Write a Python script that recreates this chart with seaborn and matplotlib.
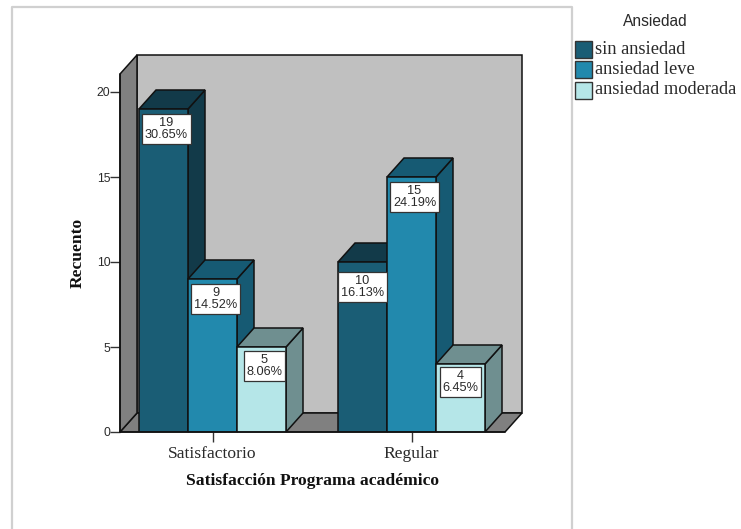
import matplotlib
matplotlib.use("Agg")
import matplotlib.pyplot as plt
import pandas as pd
import seaborn as sns
from matplotlib.patches import Polygon, Rectangle

categories = ["Satisfactorio", "Regular"]
levels = ["sin ansiedad", "ansiedad leve", "ansiedad moderada"]
counts = [[19, 9, 5], [10, 15, 4]]
percents = [["30.65%", "14.52%", "8.06%"], ["16.13%", "24.19%", "6.45%"]]
colors = ["#1a5d75", "#2289ad", "#b5e6e8"]
side_colors = ["#123a49", "#165a73", "#6f8f90"]
yticks = [0, 5, 10, 15, 20]

# Callout placement relative to each bar's top centre, in pixels
callout_dx = [[3, 3, 3], [0, 3, 0]]
callout_dy = [[20, 20, 19], [25, 20, 18]]

W, H = 741, 529
LEFT, RIGHT, TOP, BOTTOM = 120, 505, 74, 432
DEPTH_X, DEPTH_Y = 17, 19
PX_PER_UNIT = 17.0
PX_PER_CAT = 199.0
CENTER0 = 212.5

rows = [
    {"cat": c, "level": l, "n": counts[i][j]}
    for i, c in enumerate(categories)
    for j, l in enumerate(levels)
]
df = pd.DataFrame(rows)

sns.set_theme(style="white")
fig = plt.figure(figsize=(W / 100, H / 100), dpi=100, facecolor="white")
ax = fig.add_axes([LEFT / W, 1 - BOTTOM / H, (RIGHT - LEFT) / W, (BOTTOM - TOP) / H])

sns.barplot(
    data=df, x="cat", y="n", hue="level", order=categories, hue_order=levels,
    palette=colors, width=147 / PX_PER_CAT, gap=0, dodge=True, legend=False,
    saturation=1, edgecolor="#111111", linewidth=1.1, ax=ax, zorder=5,
)
ax.set_xlim((LEFT - CENTER0) / PX_PER_CAT, (RIGHT - CENTER0) / PX_PER_CAT)
ax.set_ylim(0, (BOTTOM - TOP) / PX_PER_UNIT)

dx = DEPTH_X / PX_PER_CAT
dy = DEPTH_Y / PX_PER_UNIT
x0, x1 = ax.get_xlim()
y0, y1 = ax.get_ylim()
EDGE = "#111111"
TEXT = "#2a2a2a"


def face(points, color, z):
    ax.add_patch(Polygon(points, closed=True, facecolor=color, edgecolor=EDGE,
                         linewidth=1.1, zorder=z, clip_on=False))


# Walls and floor of the box behind the bars
face([(x0 + dx, y0 + dy), (x1 + dx, y0 + dy), (x1 + dx, y1 + dy), (x0 + dx, y1 + dy)], "#c0c0c0", 1)
face([(x0, y0), (x1, y0), (x1 + dx, y0 + dy), (x0 + dx, y0 + dy)], "#808080", 2)
face([(x0, y0), (x0 + dx, y0 + dy), (x0 + dx, y1 + dy), (x0, y1)], "#808080", 2)

# Extrude each bar, left to right so later bars overlap earlier sides
ordered = sorted([p for p in ax.patches if isinstance(p, Rectangle) and p.get_height() > 0],
                 key=lambda p: p.get_x())
for k, bar in enumerate(ordered):
    i, j = k // 3, k % 3
    left, right = bar.get_x(), bar.get_x() + bar.get_width()
    top = bar.get_height()
    z = 5 + k * 0.1
    bar.set_zorder(z + 0.02)
    face([(right, 0), (right + dx, dy), (right + dx, top + dy), (right, top)], side_colors[j], z)
    face([(left, top), (right, top), (right + dx, top + dy), (left + dx, top + dy)], side_colors[j], z + 0.01)
    ax.text(
        (left + right) / 2 + callout_dx[i][j] / PX_PER_CAT,
        top - callout_dy[i][j] / PX_PER_UNIT,
        f"{counts[i][j]}\n{percents[i][j]}",
        ha="center", va="center", fontsize=9.2, family="Liberation Sans", color=TEXT,
        linespacing=0.95, zorder=20,
        bbox=dict(boxstyle="square,pad=0.22", facecolor="white", edgecolor="#333333", linewidth=0.9),
    )

sns.despine(ax=ax, top=True, right=True, left=True, bottom=True)
ax.plot([x0, x0], [y0, y1], color=EDGE, lw=1.1, zorder=3, clip_on=False)
ax.plot([x0, x1], [y0, y0], color=EDGE, lw=1.1, zorder=30, clip_on=False)

ax.set_yticks(yticks)
ax.set_yticklabels([str(v) for v in yticks], family="Liberation Sans", fontsize=8.8, color=TEXT)
ax.set_xticks(range(len(categories)))
ax.set_xticklabels(categories, family="Liberation Serif", fontsize=12.6, color=TEXT)
ax.tick_params(axis="y", length=7, width=1, color="#333333", pad=0, left=True)
ax.tick_params(axis="x", length=7, width=1, color="#333333", pad=3, bottom=True)
ax.set_xlabel("Satisfacción Programa académico", family="Liberation Serif", fontweight="bold",
              fontsize=12.6, color="#111111", labelpad=8)
ax.set_ylabel("Recuento", family="Liberation Serif", fontweight="bold", fontsize=12.6,
              color="#111111", labelpad=8)

# Chart frame
fig.add_artist(plt.Line2D([12 / W, 12 / W, 572 / W, 572 / W], [0, 1 - 7 / H, 1 - 7 / H, 0],
                          color="#d0d0d0", lw=1.6))

# Legend
fig.text(655 / W, 1 - 22 / H, "Ansiedad", family="Liberation Sans", fontsize=11.2, ha="center",
         va="center", color=TEXT)
for j, name in enumerate(levels):
    cy = 49 + j * 20.5
    fig.add_artist(Rectangle((575 / W, 1 - (cy + 8.5) / H), 17 / W, 17 / H, transform=fig.transFigure,
                             facecolor=colors[j], edgecolor="#333333", linewidth=1))
    fig.text(595 / W, 1 - cy / H, name, family="Liberation Serif", fontsize=13.2, va="center",
             color=TEXT)

fig.savefig("out.png", dpi=100)
